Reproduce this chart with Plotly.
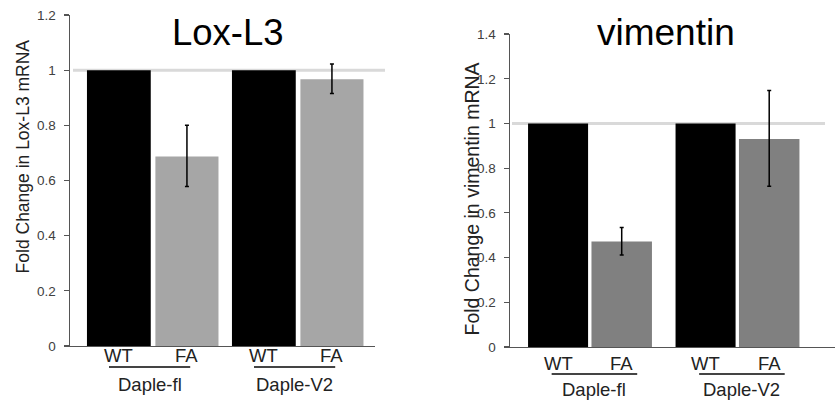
import plotly.graph_objects as go

# ---------------- data ----------------
groups = ["Daple-fl", "Daple-V2"]
conditions = ["WT", "FA"]

lox_wt = [1.0, 1.0]
lox_fa = [0.687, 0.967]
lox_fa_err_plus = [0.113, 0.055]
lox_fa_err_minus = [0.109, 0.052]

vim_wt = [1.0, 1.0]
vim_fa = [0.472, 0.931]
vim_fa_err_plus = [0.063, 0.217]
vim_fa_err_minus = [0.060, 0.212]

lox_ticks = [0, 0.2, 0.4, 0.6, 0.8, 1, 1.2]
vim_ticks = [0, 0.2, 0.4, 0.6, 0.8, 1, 1.2, 1.4]

W, H = 835, 402
FONT = "Liberation Sans, Arial, sans-serif"
# vertical calibration of the capture (target px -> page px)
VY0, VS = 7.0, 0.96


def px(x):
    return x / W


def py(y_target):
    y = (y_target - VY0) / VS
    return (H - y) / H


panels = [
    dict(xa="x", ya="y", xdom=(70, 375), ydom=(345, 15), c0=152.5, step=145.0, yr=[0, 1.2],
         ticks=lox_ticks, wt=lox_wt, fa=lox_fa, ep=lox_fa_err_plus, em=lox_fa_err_minus,
         fa_color="#a6a6a6", off_wt=-0.452, w_wt=0.44, off_fa=0.02, w_fa=0.435,
         title="Lox-L3", title_x=228, title_size=36.5,
         ytitle="Fold Change in Lox-L3 mRNA", ytitle_x=23, ytitle_y=156, ytitle_size=17.5,
         ref=(73, 385), ul=(-0.30, 0.26), lab_y=354.5, ul_y=366, grp_y=383),
    dict(xa="x2", ya="y2", xdom=(510, 835), ydom=(346, 34), c0=590.0, step=147.5, yr=[0, 1.4],
         ticks=vim_ticks, wt=vim_wt, fa=vim_fa, ep=vim_fa_err_plus, em=vim_fa_err_minus,
         fa_color="#808080", off_wt=-0.42, w_wt=0.407, off_fa=0.01, w_fa=0.41,
         title="vimentin", title_x=665.5, title_size=37,
         ytitle="Fold Change in vimentin mRNA", ytitle_x=472, ytitle_y=198, ytitle_size=19.5,
         ref=(512, 825), ul=(-0.26, 0.32), lab_y=362.5, ul_y=373, grp_y=388),
]

fig = go.Figure()
shapes = []
annotations = []
layout_axes = {}

for p in panels:
    xa, ya = p["xa"], p["ya"]
    fig.add_trace(go.Bar(
        x=groups, y=p["wt"], name="WT", xaxis=xa, yaxis=ya,
        marker=dict(color="#000000", line=dict(width=0)),
        offset=p["off_wt"], width=p["w_wt"], showlegend=False, hoverinfo="skip",
    ))
    fig.add_trace(go.Bar(
        x=groups, y=p["fa"], name="FA", xaxis=xa, yaxis=ya,
        marker=dict(color=p["fa_color"], line=dict(width=0)),
        offset=p["off_fa"], width=p["w_fa"], showlegend=False, hoverinfo="skip",
        error_y=dict(type="data", symmetric=False, array=p["ep"], arrayminus=p["em"],
                     color="#000000", thickness=1.5, width=2),
    ))

    x0p, x1p = p["xdom"]
    xr = [(x0p - p["c0"]) / p["step"], (x1p - p["c0"]) / p["step"]]
    xkey = "xaxis" if xa == "x" else "xaxis2"
    ykey = "yaxis" if ya == "y" else "yaxis2"
    layout_axes[xkey] = dict(
        domain=[px(x0p), min(1.0, px(x1p))], range=xr, anchor=ya,
        showline=True, linecolor="#555555", linewidth=1.5, showticklabels=False,
        ticks="", showgrid=False, zeroline=False, type="category", fixedrange=True,
    )
    layout_axes[ykey] = dict(
        domain=[py(p["ydom"][0]), py(p["ydom"][1])], range=p["yr"], anchor=xa,
        tickvals=p["ticks"], ticktext=[("%g" % t) for t in p["ticks"]],
        ticks="outside", ticklen=5, tickwidth=1.2, tickcolor="#555555",
        showline=True, linecolor="#555555", linewidth=1.5, showgrid=False, zeroline=False,
        tickfont=dict(family=FONT, size=13.5, color="#404040"), ticklabelstandoff=5,
        fixedrange=True,
    )

    span = x1p - x0p
    shapes.append(dict(type="line", xref=xa + " domain", yref=ya,
                       x0=(p["ref"][0] - x0p) / span, x1=(p["ref"][1] - x0p) / span,
                       y0=1, y1=1, line=dict(color="#d9d9d9", width=3), layer="below"))

    annotations.append(dict(text=p["title"], x=px(p["title_x"]), y=py(32), xref="paper",
                            yref="paper", showarrow=False, xanchor="center", yanchor="middle",
                            font=dict(family=FONT, size=p["title_size"], color="#000000")))
    annotations.append(dict(text=p["ytitle"], x=px(p["ytitle_x"]), y=py(p["ytitle_y"]),
                            xref="paper", yref="paper", showarrow=False, textangle=-90,
                            xanchor="center", yanchor="middle",
                            font=dict(family=FONT, size=p["ytitle_size"], color="#222222")))

    for gi, g in enumerate(groups):
        centers = [gi + p["off_wt"] + p["w_wt"] / 2, gi + p["off_fa"] + p["w_fa"] / 2]
        for c, cond in zip(centers, conditions):
            annotations.append(dict(text=cond, x=c, y=py(p["lab_y"]), xref=xa, yref="paper",
                                    showarrow=False, xanchor="center", yanchor="middle",
                                    font=dict(family=FONT, size=18.5, color="#222222")))
        shapes.append(dict(type="line", xref=xa, yref="paper", x0=gi + p["ul"][0], x1=gi + p["ul"][1],
                           y0=py(p["ul_y"]), y1=py(p["ul_y"]),
                           line=dict(color="#444444", width=2)))
        annotations.append(dict(text=g, x=gi + (p["ul"][0] + p["ul"][1]) / 2, y=py(p["grp_y"]),
                                xref=xa, yref="paper", showarrow=False, xanchor="center",
                                yanchor="middle", font=dict(family=FONT, size=18.5, color="#222222")))

fig.update_layout(
    width=W, height=H, margin=dict(l=0, r=0, t=0, b=0, pad=0),
    paper_bgcolor="white", plot_bgcolor="white", barmode="overlay",
    shapes=shapes, annotations=annotations, showlegend=False,
    **layout_axes,
)

fig.write_html("out.html", config={"displayModeBar": False, "staticPlot": True},
               post_script="document.body.style.margin='0';document.body.style.overflow='hidden';")
